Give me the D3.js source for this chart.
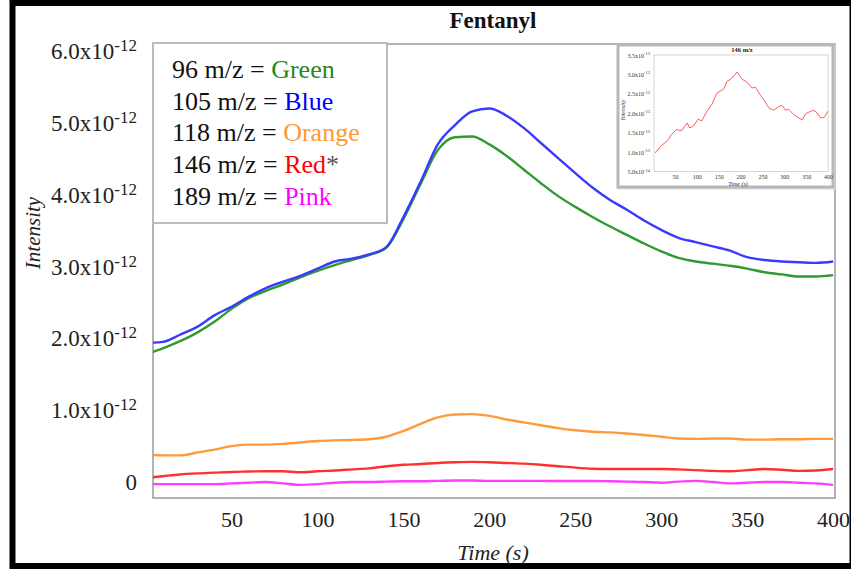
<!DOCTYPE html>
<html>
<head>
<meta charset="utf-8">
<script src="https://cdn.jsdelivr.net/npm/d3@7/dist/d3.min.js"></script>
<style>
  body { margin: 0; background: #fff; }
  svg { display: block; font-family: "Liberation Serif", "Times New Roman", serif; }
</style>
</head>
<body>
<svg id="chart" width="851" height="569"></svg>
<script>
// main chart data, intensity in units of 1e-12
const time = [4, 10, 20, 30, 40, 50, 60, 70, 80, 90, 100, 110, 120, 130, 140, 150, 160, 170, 180, 190,
  200, 210, 220, 230, 240, 250, 260, 270, 280, 290, 300, 310, 320, 330, 340, 350, 360, 370, 380, 390, 400];
const green = [1.81, 1.86, 1.96, 2.08, 2.23, 2.41, 2.56, 2.66, 2.75, 2.85, 2.94, 3.02, 3.09, 3.16, 3.26, 3.66, 4.15, 4.62, 4.80, 4.81,
  4.70, 4.54, 4.35, 4.16, 3.98, 3.83, 3.69, 3.56, 3.44, 3.32, 3.21, 3.12, 3.07, 3.04, 3.01, 2.97, 2.92, 2.89, 2.86, 2.86, 2.88];
const blue = [1.94, 1.95, 2.05, 2.16, 2.32, 2.44, 2.58, 2.70, 2.79, 2.87, 2.97, 3.07, 3.11, 3.17, 3.27, 3.69, 4.18, 4.70, 4.97, 5.16,
  5.20, 5.10, 4.93, 4.72, 4.51, 4.30, 4.10, 3.93, 3.79, 3.64, 3.51, 3.40, 3.34, 3.28, 3.22, 3.13, 3.09, 3.07, 3.06, 3.05, 3.07];
const orange = [0.376, 0.37, 0.37, 0.41, 0.45, 0.50, 0.52, 0.52, 0.53, 0.55, 0.57, 0.58, 0.585, 0.595, 0.63, 0.71, 0.81, 0.90, 0.94, 0.945,
  0.92, 0.87, 0.83, 0.79, 0.75, 0.72, 0.70, 0.69, 0.675, 0.655, 0.63, 0.605, 0.60, 0.605, 0.605, 0.59, 0.59, 0.595, 0.595, 0.60, 0.60];
const red = [0.065, 0.08, 0.105, 0.12, 0.13, 0.14, 0.145, 0.15, 0.15, 0.135, 0.15, 0.16, 0.175, 0.19, 0.22, 0.24, 0.25, 0.265, 0.275, 0.28,
  0.275, 0.265, 0.255, 0.24, 0.22, 0.20, 0.185, 0.18, 0.18, 0.18, 0.18, 0.175, 0.165, 0.155, 0.15, 0.165, 0.18, 0.17, 0.155, 0.16, 0.18];
const pink = [-0.03, -0.03, -0.03, -0.03, -0.03, -0.02, -0.01, 0.0, -0.02, -0.04, -0.03, -0.01, 0.0, 0.0, 0.005, 0.01, 0.01, 0.015, 0.02, 0.02,
  0.015, 0.015, 0.015, 0.015, 0.014, 0.014, 0.014, 0.01, 0.005, 0.0, -0.01, 0.005, 0.015, 0.0, -0.02, -0.01, 0.0, 0.0, -0.01, -0.02, -0.04];

const xTicks = [50, 100, 150, 200, 250, 300, 350, 400];
const yTicks = [0, 1, 2, 3, 4, 5, 6];

// legend rows: label, colour name, colour
const legendLabels = ['96 m/z = ', '105 m/z = ', '118 m/z = ', '146 m/z = ', '189 m/z = '];
const legendNames = ['Green', 'Blue', 'Orange', 'Red', 'Pink'];

// inset: 146 m/z, intensity in units of 1e-13
const insetTime = [4.6, 19, 27, 34.5, 42, 53, 65, 78, 84, 92, 103, 111, 123, 134, 146, 161, 169, 180, 192, 203,
  215, 226, 234, 245, 253, 265, 276, 287, 295, 303, 310, 322, 333, 341, 349, 364, 372, 383, 391, 400];
const insetRed = [0.98, 1.17, 1.24, 1.32, 1.45, 1.58, 1.55, 1.75, 1.62, 1.67, 1.85, 1.80, 2.05, 2.22, 2.52, 2.62, 2.82, 2.90, 3.06, 2.88,
  2.80, 2.65, 2.67, 2.47, 2.35, 2.13, 2.08, 2.17, 2.20, 2.08, 2.10, 1.96, 1.88, 1.83, 1.99, 2.07, 2.05, 1.88, 1.89, 2.05];
const insetXTicks = [50, 100, 150, 200, 250, 300, 350, 400];
const insetYTicks = [0.5, 1.0, 1.5, 2.0, 2.5, 3.0, 3.5];

const series = [
    { name: 'green', values: green, color: '#2f9a2f' },
    { name: 'blue', values: blue, color: '#3a3aff' },
    { name: 'orange', values: orange, color: '#ff9a3a' },
    { name: 'red', values: red, color: '#ff3030' },
    { name: 'pink', values: pink, color: '#ff3cff' }
];
const legendColors = ['#1f8a1f', '#0000ff', '#ff9933', '#ff0000', '#ff00ff'];

const svg = d3.select('#chart');

// black picture frame
svg.append('rect')
    .attr('x', 12.5).attr('y', 3).attr('width', 840).attr('height', 563)
    .attr('fill', '#fff').attr('stroke', '#000').attr('stroke-width', 6);

const plot = { left: 153, right: 835, top: 44, bottom: 498 };
const x = d3.scaleLinear().domain([4.3, 401.1]).range([plot.left, plot.right]);
const y = d3.scaleLinear().domain([-0.223, 6.098]).range([plot.bottom, plot.top]);

svg.append('clipPath').attr('id', 'clip')
    .append('rect')
    .attr('x', plot.left).attr('y', plot.top)
    .attr('width', plot.right - plot.left).attr('height', plot.bottom - plot.top);

// plot frame
svg.append('rect')
    .attr('x', plot.left).attr('y', plot.top)
    .attr('width', plot.right - plot.left).attr('height', plot.bottom - plot.top)
    .attr('fill', 'none').attr('stroke', '#999').attr('stroke-width', 1.5);

const line = d3.line()
    .x((d, i) => x(time[i]))
    .y(d => y(d))
    .curve(d3.curveMonotoneX);

svg.append('g').attr('clip-path', 'url(#clip)')
    .selectAll('path')
    .data(series)
    .enter().append('path')
    .attr('d', d => line(d.values))
    .attr('fill', 'none')
    .attr('stroke', d => d.color)
    .attr('stroke-width', 2.4)
    .attr('stroke-linejoin', 'round');

// x axis
const xAxis = svg.append('g')
    .attr('transform', `translate(0,${plot.bottom})`)
    .call(d3.axisBottom(x).tickValues(xTicks).tickSize(0).tickPadding(13));
xAxis.select('.domain').remove();
xAxis.selectAll('text')
    .attr('font-family', '"Liberation Serif", serif')
    .attr('font-size', 22)
    .attr('fill', '#222');

// y axis with superscript labels
const yAxis = svg.append('g')
    .attr('transform', `translate(${plot.left},0)`)
    .call(d3.axisLeft(y).tickValues(yTicks).tickSize(0).tickFormat(''));
yAxis.select('.domain').remove();
yAxis.selectAll('.tick').each(function(v) {
    const t = d3.select(this).append('text')
        .attr('x', -16).attr('y', 7.5)
        .attr('text-anchor', 'end')
        .attr('font-family', '"Liberation Serif", serif')
        .attr('fill', '#222');
    if (v === 0) {
        t.append('tspan').attr('font-size', 23).attr('dx', -0).text('0');
    } else {
        t.append('tspan').attr('font-size', 23).text(v.toFixed(1) + 'x10');
        t.append('tspan').attr('font-size', 17).attr('dy', -8).text('-12');
    }
});

// axis titles
svg.append('text')
    .attr('x', 493).attr('y', 28)
    .attr('text-anchor', 'middle')
    .attr('font-size', 23).attr('font-weight', 'bold')
    .attr('fill', '#111')
    .text('Fentanyl');

svg.append('text')
    .attr('transform', 'translate(40,233) rotate(-90)')
    .attr('text-anchor', 'middle')
    .attr('font-size', 21).attr('font-style', 'italic')
    .attr('fill', '#222')
    .text('Intensity');

svg.append('text')
    .attr('x', 493).attr('y', 560)
    .attr('text-anchor', 'middle')
    .attr('font-size', 22).attr('font-style', 'italic')
    .attr('fill', '#222')
    .text('Time (s)');

// legend box
svg.append('rect')
    .attr('x', 153).attr('y', 43).attr('width', 234).attr('height', 180)
    .attr('fill', '#fff').attr('stroke', '#bbb').attr('stroke-width', 2);

const legend = svg.append('g');
legendLabels.forEach((label, i) => {
    const t = legend.append('text')
        .attr('x', 172).attr('y', 78 + i * 31.7)
        .attr('font-size', 26)
        .attr('fill', '#111');
    t.append('tspan').text(label);
    t.append('tspan').attr('fill', legendColors[i]).text(legendNames[i]);
    if (legendNames[i] === 'Red') {
        t.append('tspan').attr('fill', '#555').text('*');
    }
});

// inset chart
const inset = { left: 654, right: 828, top: 55, bottom: 171.5 };
const ix = d3.scaleLinear().domain([2, 400]).range([inset.left, inset.right]);
const iy = d3.scaleLinear().domain([0.5, 3.5]).range([inset.bottom, inset.top]);

svg.append('rect')
    .attr('x', 619).attr('y', 46).attr('width', 215).attr('height', 142)
    .attr('fill', 'none').attr('stroke', '#ddd').attr('stroke-width', 3);
svg.append('rect')
    .attr('x', 618).attr('y', 45).attr('width', 215).attr('height', 142)
    .attr('fill', '#fff').attr('stroke', '#b8b8b8').attr('stroke-width', 3);

svg.append('rect')
    .attr('x', inset.left).attr('y', inset.top)
    .attr('width', inset.right - inset.left).attr('height', inset.bottom - inset.top)
    .attr('fill', 'none').attr('stroke', '#ccc').attr('stroke-width', 0.8);

const insetLine = d3.line()
    .x((d, i) => ix(insetTime[i]))
    .y(d => iy(d));

svg.append('path')
    .attr('d', insetLine(insetRed))
    .attr('fill', 'none')
    .attr('stroke', '#ff4a4a')
    .attr('stroke-width', 0.9);

const ixAxis = svg.append('g')
    .attr('transform', `translate(0,${inset.bottom})`)
    .call(d3.axisBottom(ix).tickValues(insetXTicks).tickSize(0).tickPadding(3));
ixAxis.select('.domain').remove();
ixAxis.selectAll('text')
    .attr('font-family', '"Liberation Serif", serif')
    .attr('font-size', 6)
    .attr('fill', '#333');

const iyAxis = svg.append('g')
    .attr('transform', `translate(${inset.left},0)`)
    .call(d3.axisLeft(iy).tickValues(insetYTicks).tickSize(0).tickFormat(''));
iyAxis.select('.domain').remove();
iyAxis.selectAll('.tick').each(function(v) {
    const t = d3.select(this).append('text')
        .attr('x', -4).attr('y', 2)
        .attr('text-anchor', 'end')
        .attr('font-family', '"Liberation Serif", serif')
        .attr('fill', '#333');
    const mant = v < 1 ? v * 10 : v;
    t.append('tspan').attr('font-size', 6).text(mant.toFixed(1) + 'x10');
    t.append('tspan').attr('font-size', 4.5).attr('dy', -2.5).text(v < 1 ? '-14' : '-13');
});

svg.append('text')
    .attr('x', 742).attr('y', 52)
    .attr('text-anchor', 'middle')
    .attr('font-size', 6.5).attr('font-weight', 'bold')
    .attr('fill', '#222')
    .text('146 m/z');

svg.append('text')
    .attr('x', 738).attr('y', 186)
    .attr('text-anchor', 'middle')
    .attr('font-size', 6).attr('font-style', 'italic')
    .attr('fill', '#333')
    .text('Time (s)');

svg.append('text')
    .attr('transform', 'translate(625,110) rotate(-90)')
    .attr('text-anchor', 'middle')
    .attr('font-size', 6).attr('font-style', 'italic')
    .attr('fill', '#333')
    .text('Intensity');
</script>
</body>
</html>
